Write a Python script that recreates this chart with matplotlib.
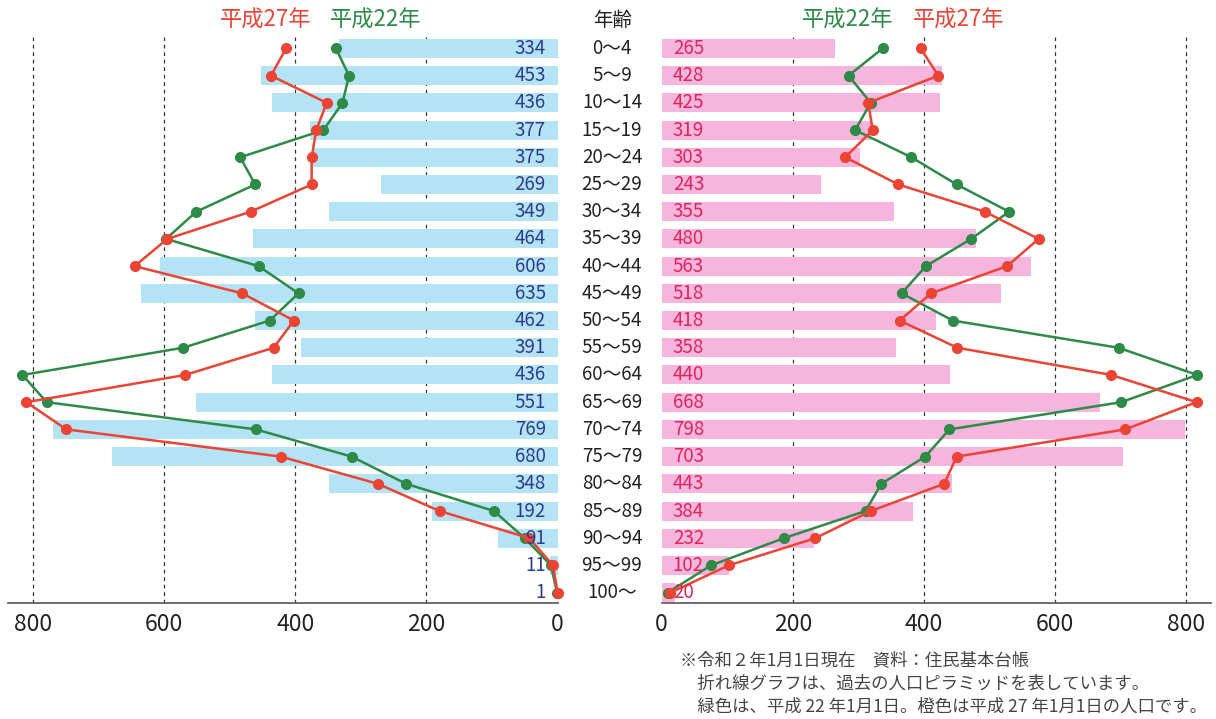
import matplotlib
matplotlib.use('Agg')
import matplotlib.pyplot as plt
from matplotlib.transforms import blended_transform_factory

plt.rcParams['font.family'] = ['Noto Sans CJK JP', 'DejaVu Sans']

# age groups (top -> bottom)
ages = ['0～4', '5～9', '10～14', '15～19', '20～24', '25～29', '30～34', '35～39',
        '40～44', '45～49', '50～54', '55～59', '60～64', '65～69', '70～74',
        '75～79', '80～84', '85～89', '90～94', '95～99', '100～']

# current population (R2.1.1)
male = [334, 453, 436, 377, 375, 269, 349, 464, 606, 635, 462, 391, 436, 551, 769,
        680, 348, 192, 91, 11, 1]
female = [265, 428, 425, 319, 303, 243, 355, 480, 563, 518, 418, 358, 440, 668, 798,
          703, 443, 384, 232, 102, 20]

# past pyramids
male_h22 = [338, 318, 328, 357, 484, 461, 551, 597, 456, 395, 439, 571, 816, 779, 460,
            314, 231, 97, 50, 10, 1]
male_h27 = [414, 437, 352, 368, 375, 375, 468, 595, 645, 481, 402, 433, 568, 810, 749,
            422, 274, 180, 43, 7, 0]
female_h22 = [337, 285, 319, 295, 381, 450, 530, 472, 403, 366, 444, 697, 817, 701, 439,
              402, 335, 311, 186, 75, 9]
female_h27 = [395, 422, 315, 322, 280, 361, 493, 575, 527, 411, 363, 451, 686, 816, 707,
              450, 431, 319, 234, 102, 13]

ticks = [0, 200, 400, 600, 800]

c_blue = '#b5e3f6'
c_pink = '#f6b5dc'
c_green = '#2e8a47'
c_red = '#eb4434'
c_male_txt = '#2d3d8e'
c_female_txt = '#e2245c'

W, H = 1216, 719
fig = plt.figure(figsize=(W / 100, H / 100), dpi=100)

ax_bot = 1 - 603 / H
ax_h = (603 - 37) / H
axL = fig.add_axes([8 / W, ax_bot, (557.6 - 8) / W, ax_h])
axR = fig.add_axes([661.7 / W, ax_bot, (1211 - 661.7) / W, ax_h])

rows = list(range(len(ages)))

for ax in (axL, axR):
    ax.set_xlim(0, 838)
    ax.set_ylim(20.38, -0.42)
    ax.set_yticks([])
    ax.set_xticks(ticks)
    ax.tick_params(axis='x', length=0, labelsize=16.5, pad=7, colors='#222222')
    for s in ['top', 'left', 'right']:
        ax.spines[s].set_visible(False)
    ax.spines['bottom'].set_color('#555555')
    ax.spines['bottom'].set_linewidth(1.2)
    for t in [200, 400, 600, 800]:
        ax.axvline(t, color='#333333', linestyle=(0, (3, 3)), linewidth=0.9, zorder=0)
axL.invert_xaxis()

axL.barh(rows, male, height=0.7, color=c_blue, zorder=1)
axR.barh(rows, female, height=0.7, color=c_pink, zorder=1)

axL.plot(male_h22, rows, color=c_green, lw=1.8, marker='o', ms=7, zorder=3, clip_on=False)
axL.plot(male_h27, rows, color=c_red, lw=1.8, marker='o', ms=7, zorder=4, clip_on=False)
axR.plot(female_h22, rows, color=c_green, lw=1.8, marker='o', ms=7, zorder=3, clip_on=False)
axR.plot(female_h27, rows, color=c_red, lw=1.8, marker='o', ms=7, zorder=4, clip_on=False)

for r, v in zip(rows, male):
    axL.text(18, r, str(v), color=c_male_txt, fontsize=13.5, ha='right', va='center', zorder=5)
for r, v in zip(rows, female):
    axR.text(17, r, str(v), color=c_female_txt, fontsize=13.5, ha='left', va='center', zorder=5)

tr = blended_transform_factory(fig.transFigure, axL.transData)
for r, a in zip(rows, ages):
    fig.text(612 / W, r, a, transform=tr, fontsize=13.5, ha='center', va='center', color='#222222')

fig.text(613 / W, 1 - 21 / H, '年齢', fontsize=14, ha='center', va='center', color='#222222')
fig.text(266 / W, 1 - 20 / H, '平成27年', fontsize=16, ha='center', va='center', color=c_red)
fig.text(376 / W, 1 - 20 / H, '平成22年', fontsize=16, ha='center', va='center', color=c_green)
fig.text(848 / W, 1 - 20 / H, '平成22年', fontsize=16, ha='center', va='center', color=c_green)
fig.text(959 / W, 1 - 20 / H, '平成27年', fontsize=16, ha='center', va='center', color=c_red)

notes = ['※令和２年1月1日現在　資料：住民基本台帳',
         '　折れ線グラフは、過去の人口ピラミッドを表しています。',
         '　緑色は、平成 22 年1月1日。橙色は平成 27 年1月1日の人口です。']
for i, n in enumerate(notes):
    fig.text(680 / W, 1 - (660 + i * 23.5) / H, n, fontsize=12.5, ha='left', va='center',
             color='#444444')

fig.savefig('out.png', dpi=100)
